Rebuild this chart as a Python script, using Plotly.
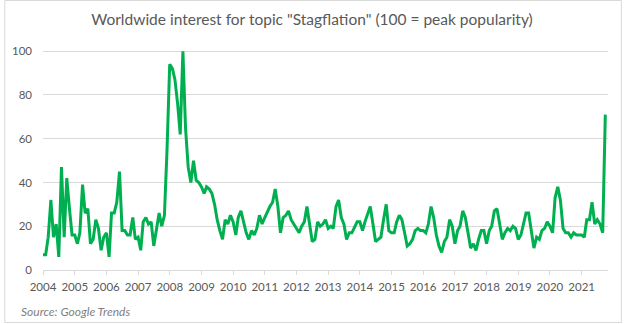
import pandas as pd
import plotly.graph_objects as go

# Monthly Google Trends interest, Jan 2004 - Oct 2021
interest = [
    7, 7, 15, 32, 15, 21, 6, 47, 15, 42, 28, 16,          # 2004
    16, 12, 17, 39, 26, 28, 12, 14, 23, 19, 9, 15,        # 2005
    17, 6, 26, 26, 31, 45, 18, 18, 16, 16, 24, 14,        # 2006
    15, 9, 22, 24, 21, 22, 11, 18, 26, 20, 25, 55,        # 2007
    94, 92, 87, 76, 62, 100, 65, 47, 40, 50, 41, 40,      # 2008
    38, 35, 38, 37, 35, 30, 23, 18, 14, 23, 21, 25,       # 2009
    22, 16, 24, 27, 22, 17, 14, 18, 16, 19, 25, 21,       # 2010
    24, 27, 29, 31, 37, 29, 17, 24, 25, 27, 23, 21,       # 2011
    19, 17, 20, 22, 29, 21, 13, 14, 22, 20, 21, 23,       # 2012
    19, 20, 19, 29, 32, 24, 21, 14, 17, 17, 20, 22,       # 2013
    22, 18, 22, 26, 29, 21, 13, 14, 15, 23, 30, 18,       # 2014
    17, 17, 22, 25, 23, 17, 11, 12, 14, 18, 19, 18,       # 2015
    18, 17, 21, 29, 24, 16, 11, 8, 13, 15, 23, 20,        # 2016
    12, 18, 20, 27, 24, 17, 10, 12, 9, 14, 18, 18,        # 2017
    12, 18, 20, 27, 28, 21, 14, 17, 19, 18, 20, 19,       # 2018
    14, 16, 21, 26, 26, 17, 10, 15, 14, 18, 19, 22,       # 2019
    20, 17, 33, 38, 32, 19, 17, 17, 15, 17, 16, 16,       # 2020
    16, 15, 23, 23, 31, 21, 23, 21, 17, 71,               # 2021
]
months = pd.date_range("2004-01-01", periods=len(interest), freq="MS")
years = list(range(2004, 2022))
year_ticks = [f"{y}-01-01" for y in years]
year_labels = [str(y) for y in years]
y_ticks = [0, 20, 40, 60, 80, 100]

W, H = 624, 324
ML, MR, MT, MB = 39, 16, 49, 54
PW, PH = W - ML - MR, H - MT - MB

def px_x(p):
    return (p - ML) / PW

def px_y(p):
    return (H - MB - p) / PH

fig = go.Figure()
fig.add_trace(go.Scatter(
    x=months, y=interest, mode="lines",
    line=dict(color="#00B050", width=3),
    hoverinfo="skip",
))

fig.update_layout(
    width=W, height=H,
    margin=dict(l=ML, r=MR, t=MT, b=MB),
    paper_bgcolor="white", plot_bgcolor="white",
    showlegend=False,
    font=dict(family="Lato, Carlito, sans-serif", color="#595959"),
    title=dict(
        text='Worldwide interest for topic "Stagflation" (100 = peak popularity)',
        x=0.5, xref="container", xanchor="center",
        y=1 - 20 / H, yref="container", yanchor="middle",
        font=dict(size=15.5, color="#595959"),
    ),
    xaxis=dict(
        range=["2004-01-01", "2021-11-01"],
        tickvals=year_ticks, ticktext=year_labels,
        showgrid=False, zeroline=False,
        showline=True, linecolor="#d9d9d9", linewidth=1,
        ticks="outside", ticklen=4, tickcolor="#d9d9d9",
        ticklabelstandoff=2,
        tickfont=dict(size=11.5, color="#595959"),
    ),
    yaxis=dict(
        range=[0, 101],
        tickvals=y_ticks,
        showgrid=True, gridcolor="#d9d9d9", gridwidth=1,
        zeroline=False, showline=False,
        ticklabelstandoff=10,
        tickfont=dict(size=11.5, color="#595959"),
    ),
    annotations=[dict(
        text="<i>Source: Google Trends</i>",
        xref="paper", yref="paper",
        x=px_x(15), y=px_y(311),
        xanchor="left", yanchor="middle",
        showarrow=False,
        font=dict(size=12, color="#7f7f7f"),
    )],
    shapes=[dict(
        type="rect", xref="paper", yref="paper",
        x0=px_x(0.5), x1=px_x(621.5), y0=px_y(322.5), y1=px_y(0.5),
        line=dict(color="#d9d9d9", width=1), layer="below",
    )],
)

fig.write_html("out.html")
